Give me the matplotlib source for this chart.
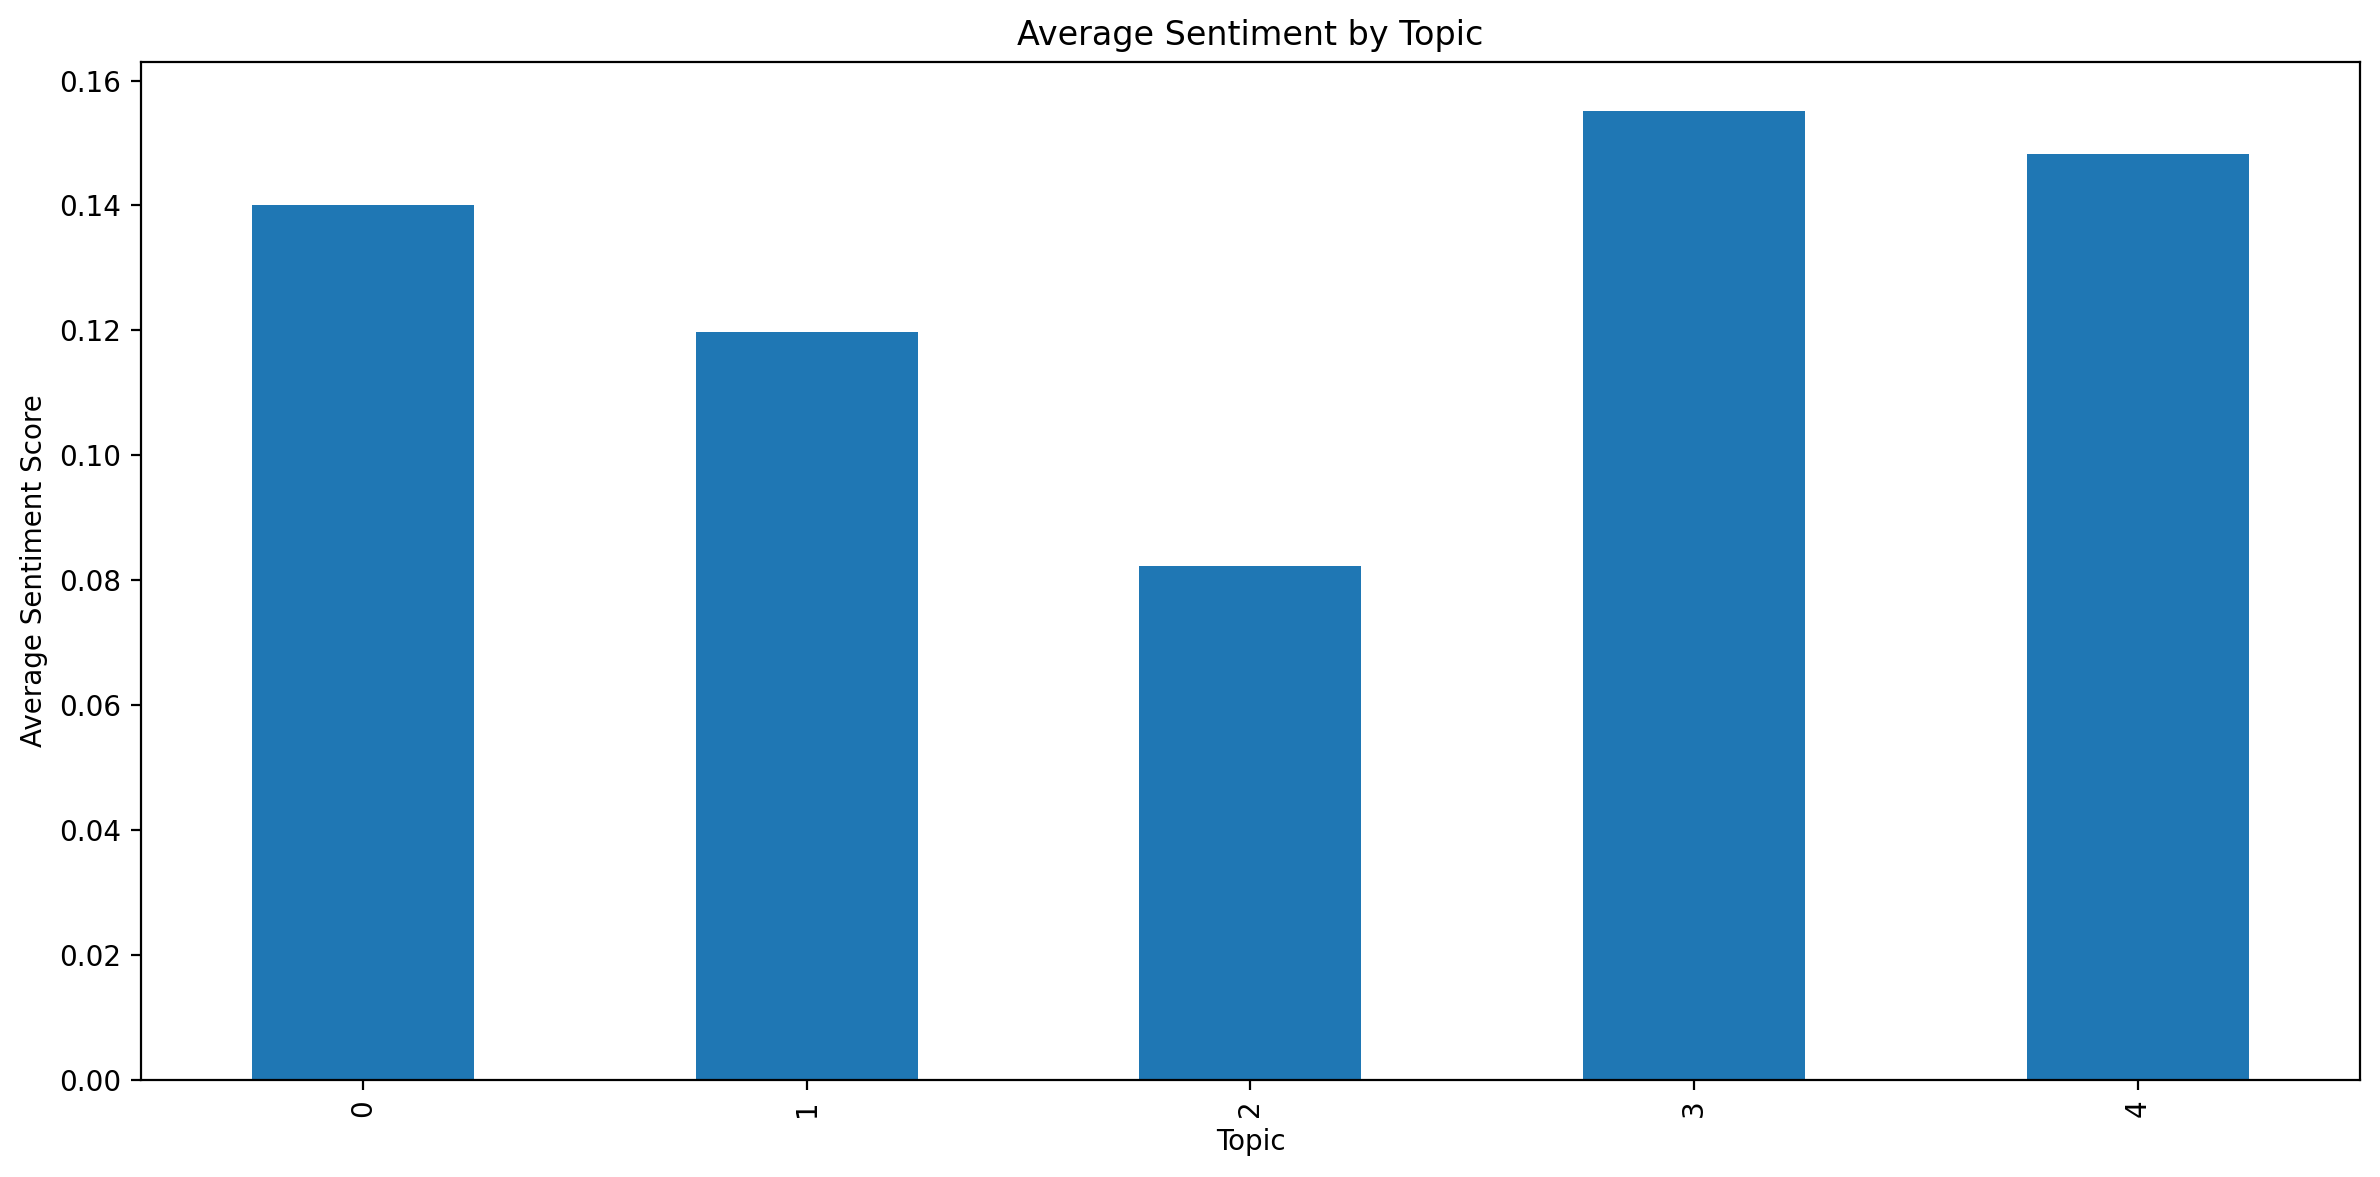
import matplotlib
matplotlib.use("Agg")
import matplotlib.pyplot as plt

topics = ["0", "1", "2", "3", "4"]
avg_sentiment = [0.1401, 0.1198, 0.0823, 0.1552, 0.1483]

fig, ax = plt.subplots(figsize=(11.9, 5.885), dpi=200)
x = range(len(topics))
ax.bar(x, avg_sentiment, width=0.5, color="#1f77b4")
ax.set_xticks(list(x))
ax.set_xticklabels(topics, rotation=90)
ax.set_xlim(-0.5, len(topics) - 0.5)
ax.set_ylim(0, max(avg_sentiment) * 1.05)
ax.set_title("Average Sentiment by Topic")
ax.set_xlabel("Topic")
ax.set_ylabel("Average Sentiment Score")
fig.subplots_adjust(left=0.0592, right=0.9916, top=0.9473, bottom=0.0824)
fig.savefig("out.png", dpi=200)
